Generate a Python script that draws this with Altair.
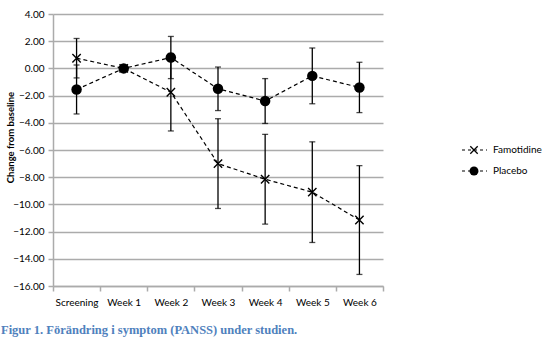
import altair as alt
import pandas as pd

weeks = ["Screening", "Week 1", "Week 2", "Week 3", "Week 4", "Week 5", "Week 6"]
famo_mean = [0.75, 0.0, -1.75, -7.0, -8.15, -9.1, -11.15]
famo_err = [1.45, 0.0, 2.85, 3.3, 3.3, 3.7, 4.0]
plac_mean = [-1.55, 0.0, 0.8, -1.5, -2.4, -0.55, -1.4]
plac_err = [1.8, 0.0, 1.55, 1.6, 1.65, 2.05, 1.85]
series_names = ["Famotidine", "Placebo"]
y_ticks = [4, 2, 0, -2, -4, -6, -8, -10, -12, -14, -16]
caption = "Figur 1. Förändring i symptom (PANSS) under studien."

rows = []
for name, means, errs in [("Famotidine", famo_mean, famo_err), ("Placebo", plac_mean, plac_err)]:
    for w, m, e in zip(weeks, means, errs):
        rows.append({"week": w, "series": name, "mean": m, "lo": m - e, "hi": m + e, "err": e})
df = pd.DataFrame(rows)

X_PATH = "M-1,-1L1,1M-1,1L1,-1"
GRID = "#ababab"
FONT = "Lato"

x_scale = alt.Scale(domain=weeks, paddingInner=0, paddingOuter=0)
x_axis = alt.Axis(title=None, tickBand="extent", grid=False, labelAngle=0,
                  domainColor=GRID, tickColor=GRID, tickSize=5, domainWidth=1.5,
                  tickWidth=1.5, labelPadding=6, labelFontSize=10, labelFont=FONT,
                  labelColor="black")
y_scale = alt.Scale(domain=[-16, 4], nice=False)
y_axis = alt.Axis(title="Change from baseline", values=y_ticks, format=".2f",
                  grid=True, gridColor=GRID, gridWidth=1.5, domainColor=GRID,
                  domainWidth=1.5, tickColor=GRID, tickSize=5, tickWidth=1.5,
                  labelFontSize=10, labelFont=FONT, labelColor="black", labelPadding=4,
                  labelOverlap=False,
                  titleFont=FONT, titleFontSize=9.5, titleFontWeight="bold",
                  titleColor="black", titleX=-38, titleY=123, titleAngle=270,
                  titleAlign="center", titleBaseline="bottom")


def X():
    return alt.X("week:N", sort=weeks, scale=x_scale, axis=x_axis)


def Y(field):
    return alt.Y(field, scale=y_scale, axis=y_axis)


base = alt.Chart(df)

lines = base.mark_line(color="black", strokeDash=[4, 3], strokeWidth=1.2).encode(
    x=X(), y=Y("mean:Q"), detail="series:N")

err_df = df[df["err"] > 0]
ebase = alt.Chart(err_df)
err_rules = ebase.mark_rule(color="black", strokeWidth=1.3).encode(
    x=X(), y=Y("lo:Q"), y2="hi:Q")
cap_lo = ebase.mark_tick(color="black", size=6, thickness=1.3).encode(x=X(), y=Y("lo:Q"))
cap_hi = ebase.mark_tick(color="black", size=6, thickness=1.3).encode(x=X(), y=Y("hi:Q"))

famo_pts = alt.Chart(df[df["series"] == "Famotidine"]).mark_point(
    shape=X_PATH, size=70, filled=False, color="black", strokeWidth=1.4, opacity=1).encode(
    x=X(), y=Y("mean:Q"))
plac_pts = alt.Chart(df[df["series"] == "Placebo"]).mark_point(
    shape="circle", size=110, filled=True, color="black", opacity=1).encode(
    x=X(), y=Y("mean:Q"))

one = pd.DataFrame({"a": [0]})
legend_layers = []
for i, name in enumerate(series_names):
    yy = 136 + i * 21
    legend_layers.append(alt.Chart(one).mark_rule(color="black", strokeDash=[3, 3], strokeWidth=1.2).encode(
        x=alt.value(409), x2=alt.value(434), y=alt.value(yy)))
    if name == "Famotidine":
        legend_layers.append(alt.Chart(one).mark_point(shape=X_PATH, size=55, filled=False, color="black",
                                                       strokeWidth=1.3, opacity=1).encode(
            x=alt.value(421), y=alt.value(yy)))
    else:
        legend_layers.append(alt.Chart(one).mark_point(shape="circle", size=80, filled=True, color="black",
                                                       opacity=1).encode(
            x=alt.value(421), y=alt.value(yy)))
    legend_layers.append(alt.Chart(pd.DataFrame({"t": [name]})).mark_text(
        align="left", baseline="middle", font=FONT, fontSize=10, color="black").encode(
        x=alt.value(440), y=alt.value(yy), text="t:N"))

cap = alt.Chart(pd.DataFrame({"t": [caption]})).mark_text(
    align="left", baseline="middle", font="Liberation Serif", fontSize=12.5, fontWeight="bold",
    color="#4f81bd").encode(x=alt.value(-52), y=alt.value(316), text="t:N")

chart = alt.layer(lines, err_rules, cap_lo, cap_hi, famo_pts, plac_pts, *legend_layers, cap).properties(
    width=330, height=272,
    autosize=alt.AutoSizeParams(type="none"),
    padding={"left": 53, "top": 14, "right": 176, "bottom": 68},
    background="white",
).configure_view(stroke=None)

chart.save("out.html", embed_options={"renderer": "svg", "actions": False})
